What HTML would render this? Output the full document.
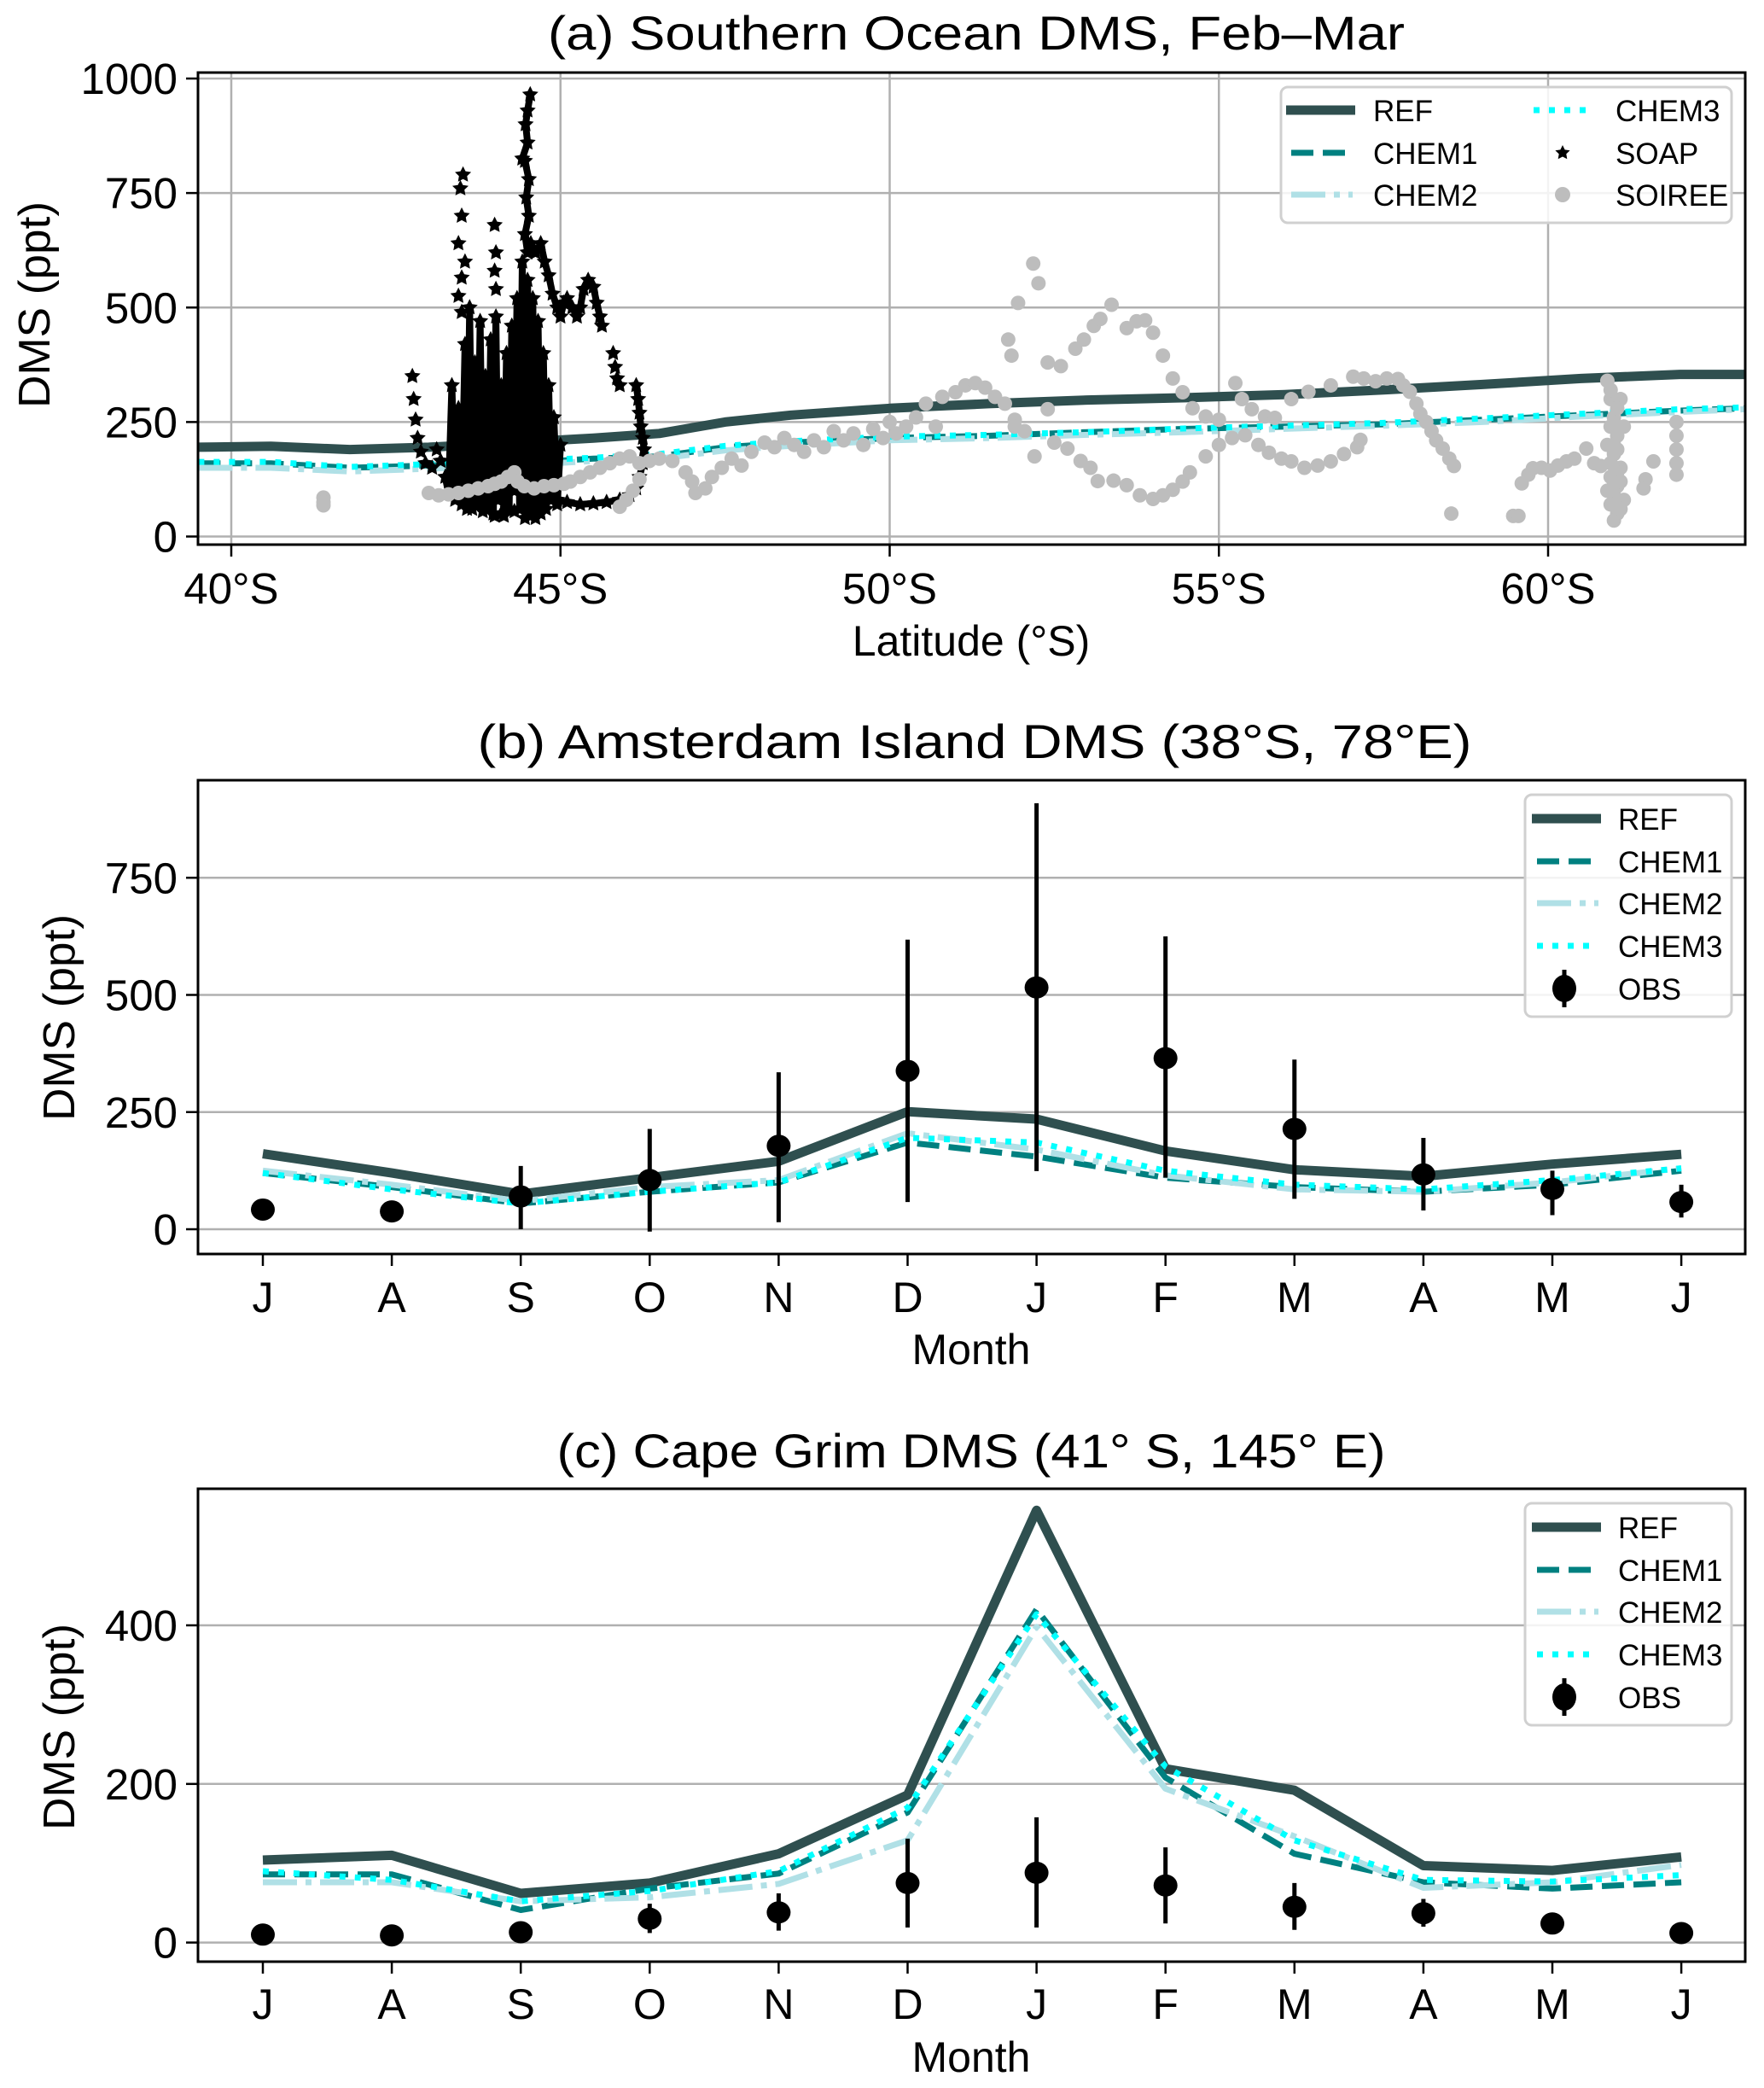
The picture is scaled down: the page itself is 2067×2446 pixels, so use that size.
<!DOCTYPE html>
<html><head><meta charset="utf-8"><style>
html,body{margin:0;padding:0;background:#fff;}
svg{display:block;font-family:"Liberation Sans",sans-serif;}
</style></head><body>
<svg id="fig" xmlns="http://www.w3.org/2000/svg" width="2067" height="2446" viewBox="0 0 2067 2446">
<defs>
<clipPath id="clipA"><rect x="232" y="85" width="1813" height="553"/></clipPath>
<clipPath id="clipB"><rect x="232" y="914" width="1813" height="555"/></clipPath>
<clipPath id="clipC"><rect x="232" y="1744" width="1813" height="554"/></clipPath>
</defs>
<rect width="2067" height="2446" fill="#fff"/>
<text x="1144" y="58" font-size="56" text-anchor="middle" textLength="1004" lengthAdjust="spacingAndGlyphs">(a) Southern Ocean DMS, Feb–Mar</text>
<text x="1142" y="888" font-size="56" text-anchor="middle" textLength="1165" lengthAdjust="spacingAndGlyphs">(b) Amsterdam Island DMS (38°S, 78°E)</text>
<text x="1138" y="1719" font-size="56" text-anchor="middle" textLength="971" lengthAdjust="spacingAndGlyphs">(c) Cape Grim DMS (41° S, 145° E)</text>
<text transform="translate(58,357) rotate(-90)" font-size="52" text-anchor="middle" textLength="242" lengthAdjust="spacingAndGlyphs">DMS (ppt)</text>
<text transform="translate(87,1192) rotate(-90)" font-size="52" text-anchor="middle" textLength="242" lengthAdjust="spacingAndGlyphs">DMS (ppt)</text>
<text transform="translate(87,2023) rotate(-90)" font-size="52" text-anchor="middle" textLength="242" lengthAdjust="spacingAndGlyphs">DMS (ppt)</text>
<text x="1138" y="768" font-size="50" text-anchor="middle">Latitude (°S)</text>
<text x="1138" y="1598" font-size="50" text-anchor="middle">Month</text>
<text x="1138" y="2427" font-size="50" text-anchor="middle">Month</text>
<g id="gA"></g>
<g id="gB"></g>
<g id="gC"></g>
</svg>
<script>
const latTicks = [40, 45, 50, 55, 60];
const dmsTicksA = [0, 250, 500, 750, 1000];
const modelLat = [39.5,40.6,41.8,43.0,44.3,45.5,46.5,47.5,48.5,50.0,51.5,53.0,54.5,56.0,57.5,59.0,60.5,62.0,63.0];
const refA = [195,197,190,195,205,215,225,250,265,280,290,298,303,310,320,332,345,354,354];
const chem1A = [160,160,150,155,160,170,175,195,205,215,220,228,235,240,245,255,265,275,280];
const chem2A = [150,150,142,148,155,165,170,188,198,210,215,222,228,235,242,250,262,272,278];
const chem3A = [163,163,152,158,165,172,180,198,208,218,222,228,236,242,248,258,268,278,282];
const soapRuns = [
 [[42.75,350],[42.77,300],[42.8,255],[42.83,215],[42.88,185],[42.95,160],[43.05,150],[43.12,190],[43.18,165]],
 [[43.52,790],[43.48,760],[43.5,700],[43.45,640],[43.55,600],[43.5,565],[43.45,525],[43.5,490]],
 [[44.0,680],[44.02,620],[44.0,580],[44.02,540]],
 [[43.25,130],[43.3,95],[43.35,330],[43.4,80],[43.45,280],[43.5,70],[43.55,420],[43.58,60],[43.62,500],[43.66,60],[43.7,380],[43.74,70],[43.78,470],[43.82,55],[43.86,350],[43.9,60],[43.94,430],[43.98,50],[44.02,480],[44.05,80],[44.1,330],[44.14,45],[44.18,400],[44.22,60],[44.26,460],[44.3,100],[44.34,520],[44.38,60],[44.42,600],[44.46,40],[44.5,560],[44.54,45],[44.58,520],[44.62,40],[44.66,470],[44.7,50],[44.74,400],[44.78,60],[44.82,330],[44.86,80],[44.9,260],[44.95,70],[45.0,200]],
 [[44.5,620],[44.46,660],[44.52,700],[44.48,740],[44.52,780],[44.46,820],[44.42,825],[44.5,860],[44.47,900],[44.5,930],[44.54,965]],
 [[44.55,640],[44.62,620],[44.7,640],[44.76,600],[44.82,570],[44.88,530],[44.95,500],[45.0,480],[45.05,510],[45.1,520],[45.18,500],[45.25,480],[45.3,500],[45.35,540],[45.42,560],[45.5,545],[45.55,510],[45.6,480],[45.63,460]],
 [[45.8,400],[45.83,370],[45.86,345],[45.9,330]],
 [[46.15,330],[46.18,300],[46.2,270],[46.22,240],[46.25,215],[46.27,190],[46.25,160],[46.2,130],[46.15,105],[46.05,90],[45.9,80],[45.7,75],[45.5,72],[45.3,70],[45.1,75],[44.95,80],[44.85,90]],
 [[44.0,45],[44.1,50],[44.2,60],[44.3,55]]
];
const soapRunSparse = [true,true,true,false,false,false,true,false,false];
const soireePts = [[41.4,85],[41.4,75],[41.4,68],
[43.0,95],[43.15,90],[43.3,92],[43.45,95],[43.6,100],[43.75,105],[43.9,110],[44.0,115],[44.1,120],[44.2,130],[44.3,140],[44.35,120],[44.45,110],[44.6,105],[44.75,110],[44.9,112],[45.05,115],[45.15,120],[45.3,130],[45.45,140],[45.6,150],[45.75,160],[45.9,170],[46.05,175],[46.2,160],[46.35,165],[45.9,65],[46.0,80],[46.1,100],[46.2,125],
[46.5,170],[46.7,165],[46.9,140],[47.0,120],[47.05,95],[47.2,105],[47.3,130],[47.45,150],[47.6,170],[47.75,155],[47.9,185],[48.1,205],[48.25,195],[48.4,215],[48.55,200],[48.7,185],[48.85,210],[49.0,195],[49.15,230],[49.3,210],[49.45,225],[49.6,200],[49.75,235],[49.9,215],[50.0,250],[50.1,225],[50.25,240],[50.4,260],[50.55,290],[50.7,240],[50.8,305],[51.0,315],[51.15,330],[51.3,335],[51.45,325],[51.6,305],[51.75,290],[51.9,255],[52.05,230],[51.9,240],[52.2,175],
[51.8,430],[51.85,395],[51.95,510],[52.18,596],[52.26,553],[52.4,380],[52.6,372],[52.82,410],[52.95,430],[53.1,460],[53.2,475],[53.37,506],[53.6,455],[53.75,470],[53.88,472],[54.0,445],[54.15,395],[54.3,345],[54.45,315],[54.6,280],[54.8,262],[55.0,255],[55.25,335],[55.35,300],[55.5,278],[55.7,262],[55.85,259],
[52.4,278],[52.5,205],[52.7,192],[52.9,165],[53.05,150],[53.16,121],[53.4,122],[53.6,112],[53.8,90],[54.0,82],[54.15,90],[54.3,102],[54.45,120],[54.56,140],[54.8,175],[55.0,200],[55.2,215],[55.4,221],[55.6,200],[55.76,183],[55.95,170],[56.1,164],[56.3,150],[56.5,155],[56.7,164],[56.9,180],[57.1,195],[57.15,211],
[56.1,300],[56.36,316],[56.7,330],[57.04,349],[57.2,345],[57.38,339],[57.55,345],[57.72,344],[57.8,330],[57.9,316],[58.0,290],[58.06,268],[58.15,250],[58.23,230],[58.3,210],[58.4,192],[58.5,170],[58.57,154],[58.53,50],
[59.47,45],[59.55,45],[59.6,116],[59.7,135],[59.77,149],[59.9,150],[60.03,144],[60.15,155],[60.28,164],[60.4,170],[60.58,192],[60.7,160],[60.8,154],[60.9,340],[60.95,300],[61.0,260],[61.05,220],[60.9,200],[61.0,180],[61.1,150],[60.95,130],[61.05,110],[61.0,90],[60.95,70],[61.05,50],[61.0,35],[61.1,300],[61.15,240],[61.1,120],[61.15,80],[61.48,125],[61.45,105],[61.6,164],[61.95,250],[61.95,220],[61.95,190],[61.95,160],[61.95,135],
[60.95,320],[61.05,280],[60.95,240],[61.05,190],[60.95,160],[61.05,140],[60.9,100],[61.1,60],[61.0,120],[61.0,200]];

const months = ["J","A","S","O","N","D","J","F","M","A","M","J"];
const dmsTicksB = [0, 250, 500, 750];
const refB = [161,120,75,110,145,251,235,167,127,113,139,160];
const chem1B = [120,90,55,80,100,185,155,110,90,80,95,125];
const chem2B = [125,95,60,90,105,205,170,115,85,80,100,130];
const chem3B = [120,85,55,80,100,195,185,125,95,85,105,130];
const obsB = [42,38,70,105,178,338,516,365,214,117,86,58];
const obsLoB = [42,38,0,-5,15,58,124,110,65,40,30,25];
const obsHiB = [42,38,135,214,335,618,909,625,362,195,125,95];

const dmsTicksC = [0, 200, 400];
const refC = [104,110,62,75,112,186,545,219,192,97,91,108];
const chem1C = [86,86,41,68,87,164,420,208,112,76,68,76];
const chem2C = [76,76,52,57,74,129,398,194,134,69,76,98];
const chem3C = [90,79,52,65,90,170,414,222,129,79,77,85];
const obsC = [10,9,13,30,38,75,88,72,45,37,24,12];
const obsLoC = [10,9,13,12,15,19,19,24,16,20,24,12];
const obsHiC = [10,9,13,49,62,131,158,120,75,55,24,12];

const AX = {left:232, right:2045};
const xA = lat => 271 + (lat - 40) * 77.15;
const yA = v => 628.5 - v * 0.5365;
const xM = i => 308 + i * 151.1;
const yB = v => 1440 - v * 0.549;
const yC = v => 2275.6 - v * 0.929;
const NS = "http://www.w3.org/2000/svg";
function mk(tag, attrs, parent) {
  const el = document.createElementNS(NS, tag);
  for (const k in attrs) el.setAttribute(k, attrs[k]);
  parent.appendChild(el);
  return el;
}
const styles = {
  ref:{stroke:"#2f4f4f", w:11, dash:""},
  chem1:{stroke:"#008080", w:7, dash:"26 11"},
  chem2:{stroke:"#b0e0e6", w:7, dash:"40 10 7 10"},
  chem3:{stroke:"#00ffff", w:7, dash:"7 11"}
};
function pathFrom(xs, ys) { return xs.map((x,i)=>(i?"L":"M")+x.toFixed(1)+","+ys[i].toFixed(1)).join(""); }
function starPts(cx, cy, r) {
  const p = [];
  for (let k=0;k<10;k++){ const a=-Math.PI/2+k*Math.PI/5; const rr=k%2?r*0.5:r; p.push((cx+rr*Math.cos(a)).toFixed(1)+","+(cy+rr*Math.sin(a)).toFixed(1)); }
  return p.join(" ");
}
function frame(g, top, bot, name) {
  const r = mk("rect", {x:AX.left, y:top, width:AX.right-AX.left, height:bot-top, fill:"none", stroke:"#000", "stroke-width":3}, g);
  
  
}
function yTicks(g, ticks, yf, pname) {
  ticks.forEach(t => {
    const y = yf(t);
    const gl = mk("line", {x1:AX.left, x2:AX.right, y1:y, y2:y, stroke:"#b0b0b0", "stroke-width":2.5}, g);
    
    
    const tk = mk("line", {x1:AX.left-14, x2:AX.left, y1:y, y2:y, stroke:"#000", "stroke-width":2.5}, g);
    
    
    const tx = mk("text", {x:AX.left-24, y:y+18, "font-size":51, "text-anchor":"end"}, g);
    tx.textContent = String(t);
    
    
  });
}
function monthTicks(g, bot, labY, pname) {
  months.forEach((m,i) => {
    const x = xM(i);
    const tk = mk("line", {x1:x, x2:x, y1:bot, y2:bot+14, stroke:"#000", "stroke-width":2.5}, g);
    
    
    const tx = mk("text", {x:x, y:labY, "font-size":50, "text-anchor":"middle"}, g);
    tx.textContent = m;
    
    
  });
}
function series(g, xs, vals, yf, key, pname) {
  const s = styles[key];
  const p = mk("path", {d:pathFrom(xs, vals.map(yf)), fill:"none", stroke:s.stroke, "stroke-width":s.w, "stroke-linejoin":"round"}, g);
  if (s.dash) p.setAttribute("stroke-dasharray", s.dash);
  
  
}
function obsSeries(g, vals, lo, hi, yf, pname) {
  vals.forEach((v,i) => {
    const x = xM(i);
    if (hi[i] !== lo[i]) {
      const e = mk("line", {x1:x, x2:x, y1:yf(lo[i]), y2:yf(hi[i]), stroke:"#000", "stroke-width":5}, g);
      
      
    }
    const c = mk("ellipse", {cx:x, cy:yf(v), rx:14, ry:13, fill:"#000"}, g);
    
    
  });
}
function legend(g, x0, y0, w, h, rows, pname) {
  const bx = mk("rect", {x:x0, y:y0, width:w, height:h, rx:8, fill:"#fff", "fill-opacity":0.85, stroke:"#d0d0d0", "stroke-width":3}, g);
  
  
  rows.forEach(r => {
    const ent = mk("g", {}, g);
    
    
    if (r.key) {
      const s = styles[r.key];
      const ln = mk("line", {x1:r.hx, x2:r.hx+(r.key==="ref"?81:72), y1:r.y, y2:r.y, stroke:s.stroke, "stroke-width":s.w}, ent);
      if (s.dash) ln.setAttribute("stroke-dasharray", s.dash);
    } else if (r.marker === "star") {
      mk("polygon", {points:starPts(r.hx+34, r.y, 9), fill:"#000"}, ent);
    } else if (r.marker === "circle") {
      mk("circle", {cx:r.hx+34, cy:r.y, r:9, fill:"#bdbdbd"}, ent);
    } else if (r.marker === "obs") {
      mk("line", {x1:r.hx+38, x2:r.hx+38, y1:r.y-22, y2:r.y+22, stroke:"#000", "stroke-width":5}, ent);
      mk("ellipse", {cx:r.hx+38, cy:r.y, rx:14, ry:16, fill:"#000"}, ent);
    }
    const t = mk("text", {x:r.tx, y:r.y+13, "font-size":35}, ent);
    t.textContent = r.label;
  });
}

const gA = document.getElementById("gA");
latTicks.forEach(l => {
  const x = xA(l);
  const gl = mk("line", {x1:x, x2:x, y1:85, y2:638, stroke:"#b0b0b0", "stroke-width":2.5}, gA);
  
  
  const tk = mk("line", {x1:x, x2:x, y1:638, y2:652, stroke:"#000", "stroke-width":2.5}, gA);
  
  
  const tx = mk("text", {x:x, y:707, "font-size":51, "text-anchor":"middle"}, gA);
  tx.textContent = l + "°S";
  
  
});
yTicks(gA, dmsTicksA, yA, "panel-a");
const plotA = mk("g", {"clip-path":"url(#clipA)"}, gA);


const latX = modelLat.map(xA);
series(plotA, latX, refA, yA, "ref", "panel-a");
series(plotA, latX, chem1A, yA, "chem1", "panel-a");
series(plotA, latX, chem2A, yA, "chem2", "panel-a");
series(plotA, latX, chem3A, yA, "chem3", "panel-a");
soapRuns.forEach((run, ri) => {
  if (!soapRunSparse[ri]) {
    const p = mk("path", {d:pathFrom(run.map(q=>xA(q[0])), run.map(q=>yA(q[1]))), fill:"none", stroke:"#000", "stroke-width":8, "stroke-linejoin":"round"}, plotA);
    
    
  }
  run.forEach(q => {
    const s = mk("polygon", {points:starPts(xA(q[0]), yA(q[1]), 10), fill:"#000"}, plotA);
    
    
  });
});
soireePts.forEach(q => {
  const c = mk("circle", {cx:xA(q[0]), cy:yA(q[1]), r:8.5, fill:"#bdbdbd"}, plotA);
  
  
});
frame(gA, 85, 638, "panel-a-axes-frame");
legend(gA, 1501, 102, 528, 159, [
  {key:"ref", label:"REF", hx:1507, tx:1609, y:129},
  {key:"chem1", label:"CHEM1", hx:1513, tx:1609, y:179},
  {key:"chem2", label:"CHEM2", hx:1513, tx:1609, y:228},
  {key:"chem3", label:"CHEM3", hx:1797, tx:1893, y:129},
  {marker:"star", label:"SOAP", hx:1797, tx:1893, y:179},
  {marker:"circle", label:"SOIREE", hx:1797, tx:1893, y:228}
], "panel-a");

const gB = document.getElementById("gB");
yTicks(gB, dmsTicksB, yB, "panel-b");
monthTicks(gB, 1469, 1537, "panel-b");
const plotB = mk("g", {"clip-path":"url(#clipB)"}, gB);


const mX = months.map((m,i)=>xM(i));
series(plotB, mX, refB, yB, "ref", "panel-b");
series(plotB, mX, chem1B, yB, "chem1", "panel-b");
series(plotB, mX, chem2B, yB, "chem2", "panel-b");
series(plotB, mX, chem3B, yB, "chem3", "panel-b");
obsSeries(plotB, obsB, obsLoB, obsHiB, yB, "panel-b");
frame(gB, 914, 1469, "panel-b-axes-frame");
legend(gB, 1787, 931, 242, 260, [
  {key:"ref", label:"REF", hx:1795, tx:1896, y:959},
  {key:"chem1", label:"CHEM1", hx:1801, tx:1896, y:1009},
  {key:"chem2", label:"CHEM2", hx:1801, tx:1896, y:1058},
  {key:"chem3", label:"CHEM3", hx:1801, tx:1896, y:1108},
  {marker:"obs", label:"OBS", hx:1795, tx:1896, y:1158}
], "panel-b");

const gC = document.getElementById("gC");
yTicks(gC, dmsTicksC, yC, "panel-c");
monthTicks(gC, 2298, 2365, "panel-c");
const plotC = mk("g", {"clip-path":"url(#clipC)"}, gC);


series(plotC, mX, refC, yC, "ref", "panel-c");
series(plotC, mX, chem1C, yC, "chem1", "panel-c");
series(plotC, mX, chem2C, yC, "chem2", "panel-c");
series(plotC, mX, chem3C, yC, "chem3", "panel-c");
obsSeries(plotC, obsC, obsLoC, obsHiC, yC, "panel-c");
frame(gC, 1744, 2298, "panel-c-axes-frame");
legend(gC, 1787, 1761, 242, 260, [
  {key:"ref", label:"REF", hx:1795, tx:1896, y:1789},
  {key:"chem1", label:"CHEM1", hx:1801, tx:1896, y:1839},
  {key:"chem2", label:"CHEM2", hx:1801, tx:1896, y:1888},
  {key:"chem3", label:"CHEM3", hx:1801, tx:1896, y:1938},
  {marker:"obs", label:"OBS", hx:1795, tx:1896, y:1988}
], "panel-c");
</script>
</body></html>
